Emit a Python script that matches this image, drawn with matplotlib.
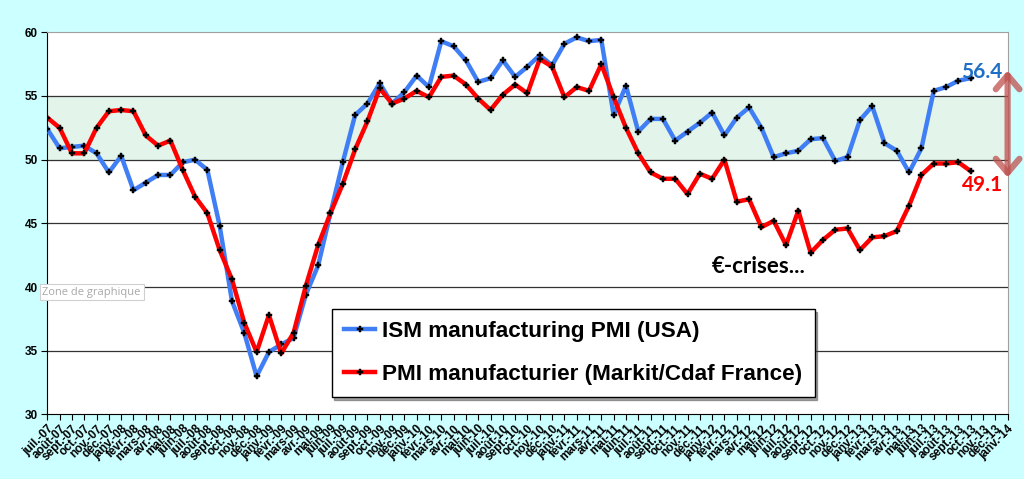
import matplotlib
matplotlib.use("Agg")
import matplotlib.pyplot as plt
import numpy as np

months_fr = ["juil.", "août", "sept.", "oct.", "nov.", "déc.", "janv.", "févr.",
             "mars", "avr.", "mai", "juin"]
# tick labels juil.-07 .. janv.-14
tick_labels = []
y, m = 7, 0
for i in range(79):
    tick_labels.append(f"{months_fr[m]}-{y:02d}")
    m += 1
    if m == 12:
        m = 0
    if m == 6:
        y += 1

ism_usa = [52.4, 50.9, 51.0, 51.1, 50.5, 49.0, 50.3, 47.6, 48.2, 48.8, 48.8, 49.8,
           50.0, 49.2, 44.8, 38.9, 36.4, 33.0, 34.9, 35.5, 36.0, 39.4, 41.7, 45.8,
           49.8, 53.5, 54.4, 56.0, 54.4, 55.3, 56.6, 55.7, 59.3, 58.9, 57.8, 56.1,
           56.4, 57.8, 56.5, 57.3, 58.2, 57.4, 59.1, 59.6, 59.3, 59.4, 53.5, 55.8,
           52.2, 53.2, 53.2, 51.5, 52.2, 52.9, 53.7, 51.9, 53.3, 54.1, 52.5, 50.2,
           50.5, 50.7, 51.6, 51.7, 49.9, 50.2, 53.1, 54.2, 51.3, 50.7, 49.0, 50.9,
           55.4, 55.7, 56.2, 56.4]
pmi_france = [53.3, 52.5, 50.5, 50.5, 52.5, 53.8, 53.9, 53.8, 51.9, 51.1, 51.5, 49.2,
              47.1, 45.8, 42.9, 40.6, 37.2, 34.9, 37.8, 34.8, 36.4, 40.1, 43.3, 45.8,
              48.1, 50.8, 53.0, 55.6, 54.4, 54.8, 55.4, 54.9, 56.5, 56.6, 55.9, 54.8,
              53.9, 55.1, 55.9, 55.2, 57.9, 57.3, 54.9, 55.7, 55.4, 57.5, 54.9, 52.5,
              50.5, 49.0, 48.5, 48.5, 47.3, 48.9, 48.5, 50.0, 46.7, 46.9, 44.7, 45.2,
              43.3, 46.0, 42.7, 43.7, 44.5, 44.6, 42.9, 43.9, 44.0, 44.4, 46.4, 48.8,
              49.7, 49.7, 49.8, 49.1]
yticks = [30, 35, 40, 45, 50, 55, 60]

bg = "#CCFFFF"
fig = plt.figure(figsize=(10.24, 4.79), dpi=100, facecolor=bg)
ax = fig.add_axes([0.0462, 0.1347, 0.9378, 0.7979])
ax.set_facecolor("white")

ax.axhspan(50, 55, color="#E3F5EA", zorder=0)
for yv in [35, 40, 45, 50, 55]:
    ax.axhline(yv, color="#333333", lw=0.9, zorder=1)

x = np.arange(len(ism_usa))
ax.plot(x, ism_usa, color="#3F7EF4", lw=3.2, zorder=3,
        marker="P", markersize=4, markerfacecolor="black", markeredgecolor="black",
        markeredgewidth=0.3, label="ISM manufacturing PMI (USA)")
ax.plot(x, pmi_france, color="#FF0000", lw=3.2, zorder=4,
        marker="P", markersize=4, markerfacecolor="black", markeredgecolor="black",
        markeredgewidth=0.3, label="PMI manufacturier (Markit/Cdaf France)")

ax.set_xlim(0, 78)
ax.set_ylim(30, 60)
ax.set_yticks(yticks)
ax.set_yticklabels([str(v) for v in yticks], fontsize=8.5, fontweight="bold",
                   family="Liberation Sans")
ax.set_xticks(np.arange(79))
ax.set_xticklabels(tick_labels, rotation=45, ha="right", va="top",
                   rotation_mode="anchor", fontsize=8.5, fontweight="bold",
                   family="Liberation Sans")
ax.tick_params(axis="x", length=4, width=0.8, direction="out", pad=2, colors="black")
ax.tick_params(axis="y", length=4, width=0.8, direction="out", pad=3)

ax.spines["left"].set_color("black")
ax.spines["bottom"].set_color("black")
ax.spines["top"].set_color("#A0A0A0")
ax.spines["right"].set_color("#A0A0A0")

leg = ax.legend(loc="lower left", bbox_to_anchor=(0.296, 0.046), frameon=True,
                fancybox=False, shadow=True, handlelength=1.4, handletextpad=0.3,
                borderpad=0.55, labelspacing=0.95, borderaxespad=0,
                prop={"family": "Liberation Sans", "weight": "bold", "size": 16.2})
leg.get_frame().set_edgecolor("black")
leg.get_frame().set_linewidth(1.0)

ax.text(57.8, 41.6, "€-crises...", fontsize=16, fontweight="bold", family="Lato",
        ha="center", va="center", color="black", zorder=5)
ax.text(77.6, 56.9, "56.4", fontsize=15, fontweight="bold", family="Lato",
        ha="right", va="center", color="#1F6FC5", zorder=5)
ax.text(77.6, 48.0, "49.1", fontsize=15, fontweight="bold", family="Lato",
        ha="right", va="center", color="#FF0000", zorder=5)

ax.annotate("", xy=(78.0, 48.6), xytext=(78.0, 57.0),
            arrowprops=dict(arrowstyle="<->,head_length=1.0,head_width=0.85",
                            color="#C0504D", alpha=0.75, lw=4.5,
                            shrinkA=0, shrinkB=0),
            annotation_clip=False, zorder=6)

fig.text(0.0415, 0.39, "Zone de graphique", fontsize=8, color="#A8A8A8",
         ha="left", va="center", family="Open Sans",
         bbox=dict(boxstyle="square,pad=0.25", fc="white", ec="#D0D0D0", lw=0.8))

fig.savefig("out.png", dpi=100, facecolor=bg)
